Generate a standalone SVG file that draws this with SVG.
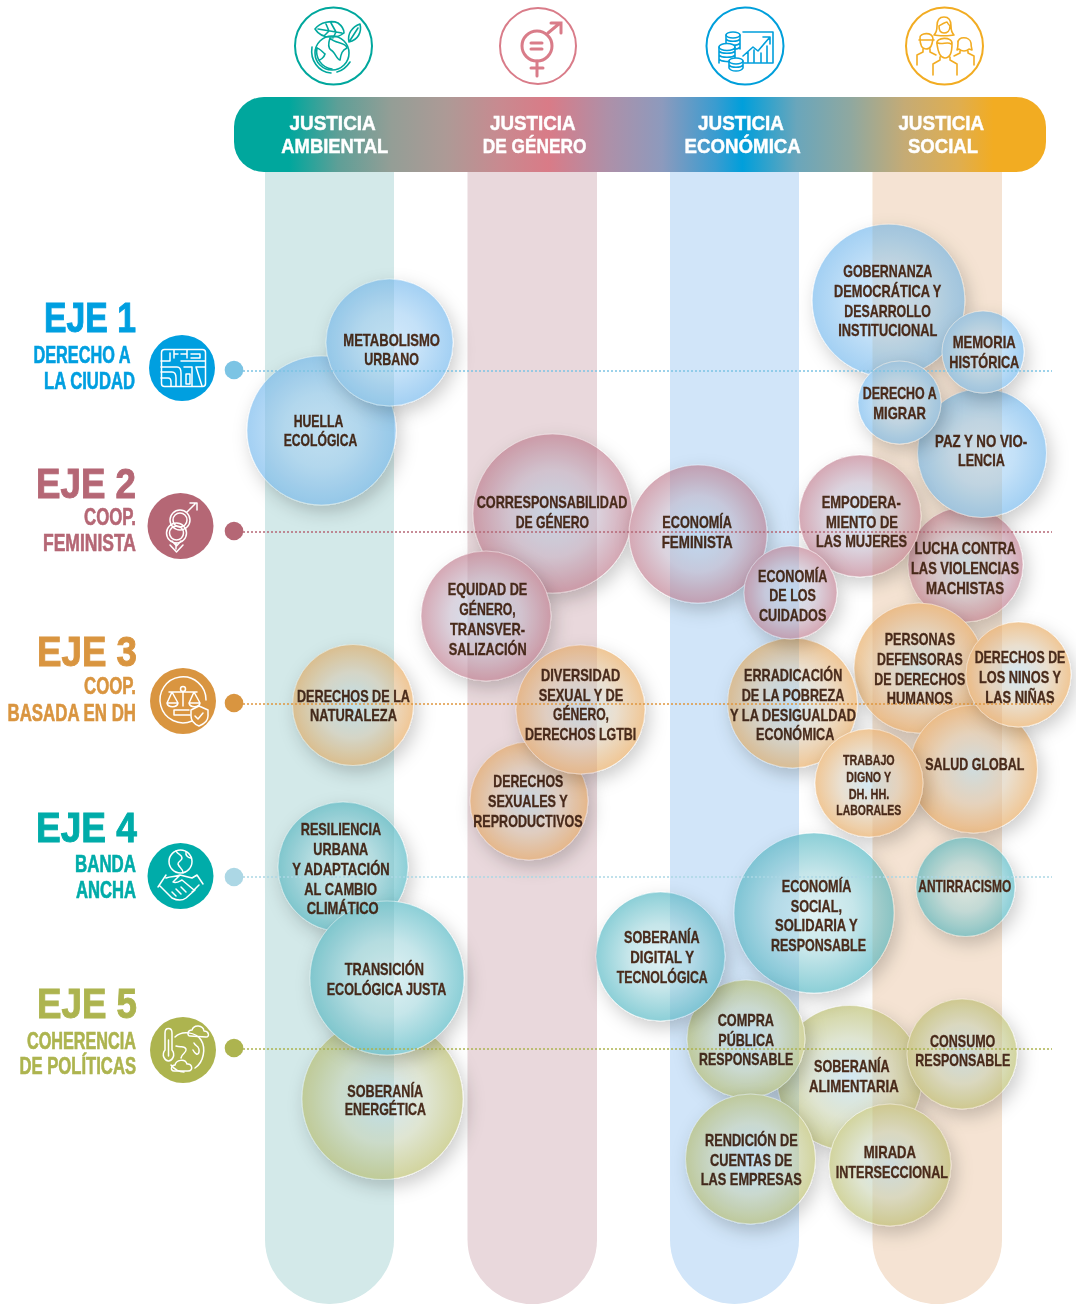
<svg xmlns="http://www.w3.org/2000/svg" width="1076" height="1304" viewBox="0 0 1076 1304">
<style>
text{font-family:"Liberation Sans Narrow","Liberation Sans",Arial,sans-serif;font-weight:700}
.l text{fill:#4a2c1c;font-size:17px;stroke:#4a2c1c;stroke-width:.35}
.l .s text{font-size:15px}
.h text{fill:#fff;font-size:20px;stroke:#fff;stroke-width:.45}
.e{font-size:42px;font-family:"Liberation Sans",Arial,sans-serif;stroke-width:1}
.a{font-size:23px;stroke-width:.6}
#eje-1 text{stroke:#009fe0}#eje-2 text{stroke:#b56775}#eje-3 text{stroke:#d99540}#eje-4 text{stroke:#00aca9}#eje-5 text{stroke:#adb44f}
circle.bu,circle.ro,circle.or,circle.te,circle.ol{stroke:#fff;stroke-opacity:.55;stroke-width:1;filter:url(#sh)}
circle.bu{fill:url(#gb)}
circle.ro{fill:url(#gr)}
circle.or{fill:url(#go)}
circle.te{fill:url(#gt)}
circle.ol{fill:url(#gl)}
.col{mix-blend-mode:multiply}
.ln{fill:none;stroke-width:1.5;stroke-dasharray:2 2}
.ic{fill:none;stroke:#fff;stroke-width:1.5;stroke-linecap:round;stroke-linejoin:round}
.tk{fill:none;stroke-width:1.6;stroke-linecap:round;stroke-linejoin:round}
</style>
<defs>
<filter id="sh" x="-40%" y="-40%" width="190%" height="190%"><feDropShadow dx="4" dy="7" stdDeviation="9" flood-color="#000" flood-opacity=".2"/></filter>
<radialGradient id="gb"><stop offset="0" stop-color="#d3e9fb"/><stop offset=".5" stop-color="#c4e1f8"/><stop offset="1" stop-color="#a3d0f3"/></radialGradient>
<radialGradient id="gr"><stop offset="0" stop-color="#d2e7f5"/><stop offset=".55" stop-color="#dbd3de"/><stop offset="1" stop-color="#d5a8b4"/></radialGradient>
<radialGradient id="go"><stop offset="0" stop-color="#d4e9f4"/><stop offset=".55" stop-color="#eadfcf"/><stop offset="1" stop-color="#f0c796"/></radialGradient>
<radialGradient id="gt"><stop offset="0" stop-color="#e0f2f4"/><stop offset=".5" stop-color="#c6e6ea"/><stop offset="1" stop-color="#8ccfd7"/></radialGradient>
<radialGradient id="gl"><stop offset="0" stop-color="#d2e8f4"/><stop offset=".55" stop-color="#dfe5d2"/><stop offset="1" stop-color="#d2d49e"/></radialGradient>
<linearGradient id="bar" gradientUnits="userSpaceOnUse" x1="234" y1="0" x2="1046" y2="0"><stop offset=".068" stop-color="#00a79d"/><stop offset=".128" stop-color="#5e9f97"/><stop offset=".194" stop-color="#949e96"/><stop offset=".261" stop-color="#ad9a96"/><stop offset=".327" stop-color="#c88a90"/><stop offset=".387" stop-color="#d97b87"/><stop offset=".46" stop-color="#ae90a8"/><stop offset=".527" stop-color="#8d9abd"/><stop offset=".593" stop-color="#3a9cd0"/><stop offset=".626" stop-color="#009fdb"/><stop offset=".693" stop-color="#6aa6bb"/><stop offset=".759" stop-color="#8fa8a0"/><stop offset=".826" stop-color="#c5ab75"/><stop offset=".892" stop-color="#dfae50"/><stop offset=".935" stop-color="#f2ac22"/></linearGradient>
<path id="c1" d="M265 172H394V1239.500A64.500 64.500 0 0 1 265 1239.500Z"/>
<path id="c2" d="M467.500 172H597V1239.500A64.750 64.750 0 0 1 467.500 1239.500Z"/>
<path id="c3" d="M670 172H799V1239.500A64.500 64.500 0 0 1 670 1239.500Z"/>
<path id="c4" d="M872.500 172H1002V1239.500A64.750 64.750 0 0 1 872.500 1239.500Z"/>
</defs>
<rect width="1076" height="1304" fill="#fff"/>

<g id="columns-base">
<use href="#c1" fill="#e8f4f4"/><use href="#c2" fill="#f4ebed"/><use href="#c3" fill="#e7f2fc"/><use href="#c4" fill="#faf1e8"/>
</g>

<g class="l">
<g id="huella-ecologica"><circle class="bu" cx="321.500" cy="430.500" r="74.500"/><text x="293.700" y="426.700" textLength="49.600" lengthAdjust="spacingAndGlyphs">HUELLA</text><text x="283.700" y="445.700" textLength="73.600" lengthAdjust="spacingAndGlyphs">ECOLÓGICA</text></g>
<g id="metabolismo-urbano"><circle class="bu" cx="389.500" cy="342.500" r="63.500"/><text x="343.300" y="345.700" textLength="96.700" lengthAdjust="spacingAndGlyphs">METABOLISMO</text><text x="364.300" y="364.700" textLength="54.700" lengthAdjust="spacingAndGlyphs">URBANO</text></g>
<g id="lucha-violencias"><circle class="ro" cx="965.500" cy="564.500" r="57.500"/><text x="914.500" y="554" textLength="101.500" lengthAdjust="spacingAndGlyphs">LUCHA CONTRA</text><text x="911" y="574" textLength="108" lengthAdjust="spacingAndGlyphs">LAS VIOLENCIAS</text><text x="926" y="594" textLength="78" lengthAdjust="spacingAndGlyphs">MACHISTAS</text></g>
<g id="paz"><circle class="bu" cx="982" cy="453" r="64.500"/><text x="935" y="447.300" textLength="92.300" lengthAdjust="spacingAndGlyphs">PAZ Y NO VIO-</text><text x="958" y="466" textLength="46.700" lengthAdjust="spacingAndGlyphs">LENCIA</text></g>
<g id="gobernanza"><circle class="bu" cx="888.500" cy="300.500" r="76.300"/><text x="843.300" y="277" textLength="89" lengthAdjust="spacingAndGlyphs">GOBERNANZA</text><text x="834" y="297" textLength="107.300" lengthAdjust="spacingAndGlyphs">DEMOCRÁTICA Y</text><text x="844.300" y="316.700" textLength="86.700" lengthAdjust="spacingAndGlyphs">DESARROLLO</text><text x="838.300" y="336.300" textLength="99" lengthAdjust="spacingAndGlyphs">INSTITUCIONAL</text></g>
<g id="derecho-migrar"><circle class="bu" cx="899.500" cy="402.500" r="41.500"/><text x="862.700" y="399.300" textLength="74" lengthAdjust="spacingAndGlyphs">DERECHO A</text><text x="873.300" y="419" textLength="52.700" lengthAdjust="spacingAndGlyphs">MIGRAR</text></g>
<g id="memoria"><circle class="bu" cx="983" cy="352" r="41"/><text x="952.700" y="348.300" textLength="63" lengthAdjust="spacingAndGlyphs">MEMORIA</text><text x="949.300" y="368" textLength="70" lengthAdjust="spacingAndGlyphs">HISTÓRICA</text></g>
<g id="empoderamiento"><circle class="ro" cx="860" cy="516" r="61"/><text x="821.700" y="508.300" textLength="79" lengthAdjust="spacingAndGlyphs">EMPODERA-</text><text x="826" y="527.500" textLength="72" lengthAdjust="spacingAndGlyphs">MIENTO DE</text><text x="816" y="547.300" textLength="91" lengthAdjust="spacingAndGlyphs">LAS MUJERES</text></g>
<g id="corresponsabilidad"><circle class="ro" cx="552.500" cy="513.500" r="79.500"/><text x="476.700" y="508.300" textLength="150.600" lengthAdjust="spacingAndGlyphs">CORRESPONSABILIDAD</text><text x="515.700" y="528.300" textLength="73.300" lengthAdjust="spacingAndGlyphs">DE GÉNERO</text></g>
<g id="equidad"><circle class="ro" cx="486" cy="616" r="65"/><text x="447.700" y="595.300" textLength="79.600" lengthAdjust="spacingAndGlyphs">EQUIDAD DE</text><text x="459.300" y="615" textLength="56.400" lengthAdjust="spacingAndGlyphs">GÉNERO,</text><text x="450" y="635" textLength="75" lengthAdjust="spacingAndGlyphs">TRANSVER-</text><text x="448.700" y="655" textLength="78" lengthAdjust="spacingAndGlyphs">SALIZACIÓN</text></g>
<g id="derechos-sexuales"><circle class="or" cx="529" cy="801" r="59"/><text x="493.300" y="787.300" textLength="70" lengthAdjust="spacingAndGlyphs">DERECHOS</text><text x="488" y="807.300" textLength="79.700" lengthAdjust="spacingAndGlyphs">SEXUALES Y</text><text x="473.300" y="827" textLength="109.400" lengthAdjust="spacingAndGlyphs">REPRODUCTIVOS</text></g>
<g id="diversidad"><circle class="or" cx="580.500" cy="709.500" r="64.500"/><text x="541" y="681" textLength="79.300" lengthAdjust="spacingAndGlyphs">DIVERSIDAD</text><text x="538.700" y="701.300" textLength="84.600" lengthAdjust="spacingAndGlyphs">SEXUAL Y DE</text><text x="553" y="720" textLength="56" lengthAdjust="spacingAndGlyphs">GÉNERO,</text><text x="525" y="740" textLength="111.300" lengthAdjust="spacingAndGlyphs">DERECHOS LGTBI</text></g>
<g id="economia-feminista"><circle class="ro" cx="698" cy="534" r="69"/><text x="662.300" y="528.300" textLength="69.700" lengthAdjust="spacingAndGlyphs">ECONOMÍA</text><text x="661.700" y="548.300" textLength="71" lengthAdjust="spacingAndGlyphs">FEMINISTA</text></g>
<g id="personas-defensoras"><circle class="or" cx="919" cy="668" r="65"/><text x="884.700" y="645" textLength="70.300" lengthAdjust="spacingAndGlyphs">PERSONAS</text><text x="877" y="665" textLength="85.700" lengthAdjust="spacingAndGlyphs">DEFENSORAS</text><text x="874.300" y="685" textLength="91" lengthAdjust="spacingAndGlyphs">DE DERECHOS</text><text x="886.700" y="704.300" textLength="66" lengthAdjust="spacingAndGlyphs">HUMANOS</text></g>
<g id="erradicacion"><circle class="or" cx="792.500" cy="703" r="65"/><text x="744" y="681" textLength="98.300" lengthAdjust="spacingAndGlyphs">ERRADICACIÓN</text><text x="741.700" y="701" textLength="102.600" lengthAdjust="spacingAndGlyphs">DE LA POBREZA</text><text x="730" y="720.700" textLength="126" lengthAdjust="spacingAndGlyphs">Y LA DESIGUALDAD</text><text x="756" y="740" textLength="78.300" lengthAdjust="spacingAndGlyphs">ECONÓMICA</text></g>
<g id="economia-cuidados"><circle class="ro" cx="790.500" cy="592.500" r="46.500"/><text x="758" y="582" textLength="69.300" lengthAdjust="spacingAndGlyphs">ECONOMÍA</text><text x="769.300" y="601.300" textLength="46.700" lengthAdjust="spacingAndGlyphs">DE LOS</text><text x="759" y="621" textLength="67.300" lengthAdjust="spacingAndGlyphs">CUIDADOS</text></g>
<g id="salud-global"><circle class="or" cx="973.500" cy="769" r="64"/><text x="925.300" y="770.300" textLength="99" lengthAdjust="spacingAndGlyphs">SALUD GLOBAL</text></g>
<g id="derechos-ninos"><circle class="or" cx="1018.500" cy="674.500" r="52.500"/><text x="974.700" y="663" textLength="90.600" lengthAdjust="spacingAndGlyphs">DERECHOS DE</text><text x="979" y="683" textLength="82" lengthAdjust="spacingAndGlyphs">LOS NINOS Y</text><text x="985.300" y="703" textLength="69.400" lengthAdjust="spacingAndGlyphs">LAS NIÑAS</text></g>
<g id="trabajo-digno" class="s"><circle class="or" cx="869" cy="783" r="54"/><text x="843" y="765" textLength="51.700" lengthAdjust="spacingAndGlyphs">TRABAJO</text><text x="846.300" y="782" textLength="44.700" lengthAdjust="spacingAndGlyphs">DIGNO Y</text><text x="848.700" y="799" textLength="40.600" lengthAdjust="spacingAndGlyphs">DH. HH.</text><text x="836.300" y="815" textLength="65" lengthAdjust="spacingAndGlyphs">LABORALES</text></g>
<g id="derechos-naturaleza"><circle class="or" cx="353" cy="705" r="60.500"/><text x="297" y="702" textLength="113" lengthAdjust="spacingAndGlyphs">DERECHOS DE LA</text><text x="310" y="721" textLength="87" lengthAdjust="spacingAndGlyphs">NATURALEZA</text></g>
<g id="soberania-energetica"><circle class="ol" cx="382.500" cy="1099" r="80.500"/><text x="347.300" y="1096.700" textLength="75.700" lengthAdjust="spacingAndGlyphs">SOBERANÍA</text><text x="344.700" y="1115" textLength="81.300" lengthAdjust="spacingAndGlyphs">ENERGÉTICA</text></g>
<g id="resiliencia"><circle class="te" cx="343" cy="867" r="65"/></g>
<g id="transicion"><circle class="te" cx="387" cy="978" r="77"/><text x="344.700" y="974.700" textLength="79.300" lengthAdjust="spacingAndGlyphs">TRANSICIÓN</text><text x="326.700" y="994.700" textLength="119.600" lengthAdjust="spacingAndGlyphs">ECOLÓGICA JUSTA</text></g>
<g id="resiliencia-label"><text x="300.700" y="835" textLength="80.600" lengthAdjust="spacingAndGlyphs">RESILIENCIA</text><text x="313.300" y="854.700" textLength="55" lengthAdjust="spacingAndGlyphs">URBANA</text><text x="292.300" y="874.700" textLength="97.400" lengthAdjust="spacingAndGlyphs">Y ADAPTACIÓN</text><text x="304.300" y="894.700" textLength="72.700" lengthAdjust="spacingAndGlyphs">AL CAMBIO</text><text x="306.700" y="914" textLength="72" lengthAdjust="spacingAndGlyphs">CLIMÁTICO</text></g>
<g id="soberania-alimentaria"><circle class="ol" cx="849.500" cy="1078" r="72.500"/><text x="814" y="1072" textLength="75.700" lengthAdjust="spacingAndGlyphs">SOBERANÍA</text><text x="809" y="1092" textLength="89.700" lengthAdjust="spacingAndGlyphs">ALIMENTARIA</text></g>
<g id="economia-social"><circle class="te" cx="814" cy="913" r="80"/><text x="781.700" y="892.300" textLength="69.600" lengthAdjust="spacingAndGlyphs">ECONOMÍA</text><text x="790.700" y="912" textLength="51.300" lengthAdjust="spacingAndGlyphs">SOCIAL,</text><text x="775" y="931.300" textLength="82.700" lengthAdjust="spacingAndGlyphs">SOLIDARIA Y</text><text x="771" y="951" textLength="95" lengthAdjust="spacingAndGlyphs">RESPONSABLE</text></g>
<g id="compra-publica"><circle class="ol" cx="746" cy="1039" r="59"/><text x="717.700" y="1026" textLength="56.300" lengthAdjust="spacingAndGlyphs">COMPRA</text><text x="718.300" y="1046" textLength="55.700" lengthAdjust="spacingAndGlyphs">PÚBLICA</text><text x="699" y="1065.300" textLength="94.300" lengthAdjust="spacingAndGlyphs">RESPONSABLE</text></g>
<g id="soberania-digital"><circle class="te" cx="660.500" cy="956.500" r="64.500"/><text x="624" y="943.300" textLength="75.700" lengthAdjust="spacingAndGlyphs">SOBERANÍA</text><text x="630.300" y="963.300" textLength="63.700" lengthAdjust="spacingAndGlyphs">DIGITAL Y</text><text x="616.700" y="983" textLength="91" lengthAdjust="spacingAndGlyphs">TECNOLÓGICA</text></g>
<g id="rendicion"><circle class="ol" cx="750.500" cy="1159" r="65"/><text x="705" y="1146" textLength="92.700" lengthAdjust="spacingAndGlyphs">RENDICIÓN DE</text><text x="710" y="1166" textLength="82.300" lengthAdjust="spacingAndGlyphs">CUENTAS DE</text><text x="700.700" y="1185.300" textLength="101" lengthAdjust="spacingAndGlyphs">LAS EMPRESAS</text></g>
<g id="consumo"><circle class="ol" cx="962" cy="1054" r="55"/><text x="930" y="1047" textLength="65.300" lengthAdjust="spacingAndGlyphs">CONSUMO</text><text x="915.300" y="1066" textLength="95" lengthAdjust="spacingAndGlyphs">RESPONSABLE</text></g>
<g id="mirada"><circle class="ol" cx="890" cy="1165" r="61"/><text x="863.700" y="1158.300" textLength="52.300" lengthAdjust="spacingAndGlyphs">MIRADA</text><text x="835.700" y="1178.300" textLength="112.300" lengthAdjust="spacingAndGlyphs">INTERSECCIONAL</text></g>
<g id="antirracismo"><circle class="te" cx="965.500" cy="887" r="49.500"/><text x="918.300" y="892.300" textLength="93" lengthAdjust="spacingAndGlyphs">ANTIRRACISMO</text></g>
</g>

<g id="columns">
<use class="col" href="#c1" fill="#e8f4f4"/><use class="col" href="#c2" fill="#f4ebed"/><use class="col" href="#c3" fill="#e7f2fc"/><use class="col" href="#c4" fill="#faf1e8"/>
</g>

<g id="connectors">
<path class="ln" stroke="#7cc4e4" d="M243 371H1052"/>
<path class="ln" stroke="#b56775" d="M243 532H1052"/>
<path class="ln" stroke="#e0963f" d="M243 704H1052"/>
<path class="ln" stroke="#acd7e5" d="M243 877H1052"/>
<path class="ln" stroke="#adb44f" d="M243 1049H1052"/>
</g>

<g id="header" class="h">
<rect x="234" y="97" width="812" height="75" rx="30" fill="url(#bar)"/>
<text x="289.400" y="129.500" textLength="86.400" lengthAdjust="spacingAndGlyphs">JUSTICIA</text><text x="281.300" y="152.500" textLength="106.900" lengthAdjust="spacingAndGlyphs">AMBIENTAL</text>
<text x="490" y="129.500" textLength="85.600" lengthAdjust="spacingAndGlyphs">JUSTICIA</text><text x="482.700" y="152.500" textLength="103.700" lengthAdjust="spacingAndGlyphs">DE GÉNERO</text>
<text x="698" y="129.500" textLength="86" lengthAdjust="spacingAndGlyphs">JUSTICIA</text><text x="684.600" y="152.500" textLength="116.200" lengthAdjust="spacingAndGlyphs">ECONÓMICA</text>
<text x="898.400" y="129.500" textLength="85.800" lengthAdjust="spacingAndGlyphs">JUSTICIA</text><text x="908" y="152.500" textLength="70" lengthAdjust="spacingAndGlyphs">SOCIAL</text>
</g>

<g id="icon-ambiental" class="tk" stroke="#00a79d">
<circle cx="333.500" cy="46" r="38.500" stroke-width="2"/>
<circle cx="332" cy="53" r="17"/>
<path d="M312 47C310 60 318 72 331 73M317 48C315 58 322 68 332 69M350 62C346 68 341 71 337 72"/>
<path d="M315 29C320 22 332 20 338 23C342 26 344 30 344 33C338 38 322 40 315 29ZM318 29L342 33M326 24L329 31M331 23L336 32M324 36L329 31M333 38L336 32"/>
<path d="M349 42C347 34 352 27 360 24C362 32 358 40 349 42ZM349 42L358 28"/>
<path d="M330 38C335 44 346 42 347 48C342 50 341 54 340 60C337 60 335 52 331 50C328 48 328 44 330 38ZM316 48C320 48 322 52 325 54C324 58 320 60 319 60"/>
</g>
<g id="icon-genero" fill="none" stroke="#d97c89" stroke-linecap="round">
<circle cx="538" cy="46" r="38" stroke-width="2"/>
<circle cx="537" cy="46" r="15" stroke-width="3"/>
<path stroke-width="3" d="M531 43H542M531 49H542M537 61V76M531 68H543M548 33L560 23M551 23H561V33"/>
</g>
<g id="icon-economica" class="tk" stroke="#009fdb">
<circle cx="745" cy="46" r="38.500" stroke-width="2"/>
<path d="M743 32H773V63H744M748 52V62M754 50V62M761 53V62M767 46V62M743 56L753 47L758 51L770 37M763 37H770V44"/>
<ellipse cx="733" cy="35" rx="7" ry="3"/><path d="M726 35V49M740 35V49M726 39C728 42 738 42 740 39M726 43C728 46 738 46 740 43M726 47C728 50 738 50 740 47"/>
<ellipse cx="727" cy="47" rx="8" ry="3.500" fill="#fff"/><path d="M719 47V63M735 47V59M719 51C721 54 733 54 735 51M719 55C721 58 733 58 735 55M719 59C721 62 731 62 733 61"/>
<ellipse cx="736" cy="61" rx="7" ry="3" fill="#fff"/><path d="M729 61V68C731 72 741 72 743 68V61M729 65C731 68 741 68 743 65"/>
</g>
<g id="icon-social" class="tk" stroke="#f2ac22">
<circle cx="944.500" cy="46" r="38.500" stroke-width="2"/>
<path d="M937 26C937 19 940 17 944 17C948 17 951 19 951 26C951 31 953 34 954 35C950 36 938 36 934 35C935 34 937 31 937 26ZM939 26C941 25 945 22 947 22C948 24 949 25 950 26C950 31 947 33 944 33C941 33 939 31 939 26Z"/>
<path d="M920 38C919 33 933 31 933 39C932 45 931 49 926 49C922 49 920 45 920 38ZM919 40H934M923 49V52L917 55V65M930 49V52L936 55"/>
<path d="M958 43C957 36 970 36 971 43C971 47 972 49 972 50L969 49C968 50 966 51 964 51C962 51 960 50 959 49L957 50C958 48 958 46 958 43ZM960 51V53L954 56M968 51V53L974 56V65"/>
<path d="M937 44C935 37 953 36 952 44C952 52 950 58 945 58C940 58 938 52 937 44ZM938 43C942 45 948 41 951 44M940 57V60L933 64V75M950 57V60L957 64V75"/>
</g>

<g id="eje-1" fill="#009fe0">
<text class="e" x="44" y="332" textLength="92" lengthAdjust="spacingAndGlyphs">EJE 1</text>
<text class="a" x="33.500" y="363" textLength="97" lengthAdjust="spacingAndGlyphs">DERECHO A</text>
<text class="a" x="44" y="389" textLength="91" lengthAdjust="spacingAndGlyphs">LA CIUDAD</text>
<circle cx="182" cy="368" r="33"/>
<g class="ic"><rect x="161.500" y="349.500" width="44" height="37" rx="3"/>
<path d="M161 361H170V353M174 350V358M178 354H174M161 367H177C180 367 181 370 181 373V386M161 372H172C175 372 176 375 176 378V386M161 378H168C170 378 171 380 171 382V386M181 354H187V358M187 350V354M181 361H205M191 354H200V358H191M184 367H192V386M196 367H205M196 367L202 386M186 374H190V384H186Z"/></g>
</g>
<g id="eje-2" fill="#b56775">
<text class="e" x="36" y="498" textLength="100" lengthAdjust="spacingAndGlyphs">EJE 2</text>
<text class="a" x="84" y="525" textLength="52" lengthAdjust="spacingAndGlyphs">COOP.</text>
<text class="a" x="43" y="551" textLength="93" lengthAdjust="spacingAndGlyphs">FEMINISTA</text>
<circle cx="180.500" cy="526" r="33"/>
<g class="ic"><circle cx="180" cy="520" r="10"/><circle cx="176.500" cy="533" r="10"/><circle cx="180" cy="520" r="7"/><circle cx="176.500" cy="533" r="7"/>
<path d="M187 512L195 504M190 503H197V510M176 543V549M170 545L176.500 552L183 545M172 541L176.500 546L181 541"/></g>
</g>
<g id="eje-3" fill="#d99540">
<text class="e" x="37" y="666" textLength="100" lengthAdjust="spacingAndGlyphs">EJE 3</text>
<text class="a" x="84" y="694" textLength="52" lengthAdjust="spacingAndGlyphs">COOP.</text>
<text class="a" x="7.500" y="721" textLength="128.500" lengthAdjust="spacingAndGlyphs">BASADA EN DH</text>
<circle cx="183" cy="701" r="33"/>
<g class="ic"><path d="M192 721A23 23 0 1 1 206 700"/><circle cx="183" cy="689" r="2.500"/>
<path d="M183 692V706M169 692H197M172 692L167 703C168 708 177 708 178 703L172 692M194 692L189 703C190 708 199 708 200 703L194 692M167 703H178M189 703H200M174 710H189M174 715H190M174 710V715"/>
<path d="M199 706L208 710V716C208 721 204 724 199 726C194 724 191 721 191 716V710ZM195 716L198 719L203 713"/></g>
</g>
<g id="eje-4" fill="#00aca9">
<text class="e" x="36" y="842" textLength="101" lengthAdjust="spacingAndGlyphs">EJE 4</text>
<text class="a" x="75" y="872" textLength="61" lengthAdjust="spacingAndGlyphs">BANDA</text>
<text class="a" x="76" y="898" textLength="60" lengthAdjust="spacingAndGlyphs">ANCHA</text>
<circle cx="180.500" cy="876" r="33"/>
<g class="ic"><circle cx="180.500" cy="861.500" r="11.500"/>
<path d="M176 851C178 855 182 854 182 858C182 861 178 861 178 864C179 868 183 868 183 873M186 852C185 856 189 858 191 858"/>
<path d="M158 887L166 875M197 875L203 884M166 878C172 876 176 877 180 875L192 878L197 875M180 875L173 882C176 884 180 881 182 880L194 890M160 886L172 898C176 900 182 901 186 898L195 890M172 892L176 896M176 889L181 894M181 887L186 892M199 885L192 892"/></g>
</g>
<g id="eje-5" fill="#adb44f">
<text class="e" x="37" y="1018" textLength="100" lengthAdjust="spacingAndGlyphs">EJE 5</text>
<text class="a" x="27" y="1049" textLength="109" lengthAdjust="spacingAndGlyphs">COHERENCIA</text>
<text class="a" x="19.500" y="1074" textLength="116.500" lengthAdjust="spacingAndGlyphs">DE POLÍTICAS</text>
<circle cx="183" cy="1050" r="33"/>
<g class="ic"><path d="M165 1050V1033C165 1027 172 1027 172 1033V1050C176 1055 172 1061 168.500 1061C165 1061 161 1055 165 1050ZM168.500 1040V1056"/>
<path d="M175 1037C182 1030 196 1032 201 1040C206 1048 204 1062 195 1068M171 1065C175 1070 180 1072 184 1072"/>
<path d="M190 1036C187 1036 187 1030 192 1030C194 1024 203 1025 204 1031C209 1031 210 1037 206 1037ZM176 1046C181 1048 184 1045 186 1049C187 1053 182 1053 181 1058M194 1043C196 1047 200 1046 199 1052C198 1056 195 1054 193 1050"/>
<path d="M174 1071C170 1071 171 1065 175 1065C176 1060 185 1058 187 1064C192 1063 194 1071 188 1071Z"/></g>
</g>
<g id="dots"><circle cx="234" cy="370" r="9.300" fill="#7cc4e4"/><circle cx="234" cy="531" r="9.300" fill="#b56775"/><circle cx="234" cy="703" r="9.300" fill="#d99540"/><circle cx="234" cy="877" r="9.300" fill="#acd7e5"/><circle cx="234" cy="1048" r="9.300" fill="#adb44f"/></g>
</svg>
